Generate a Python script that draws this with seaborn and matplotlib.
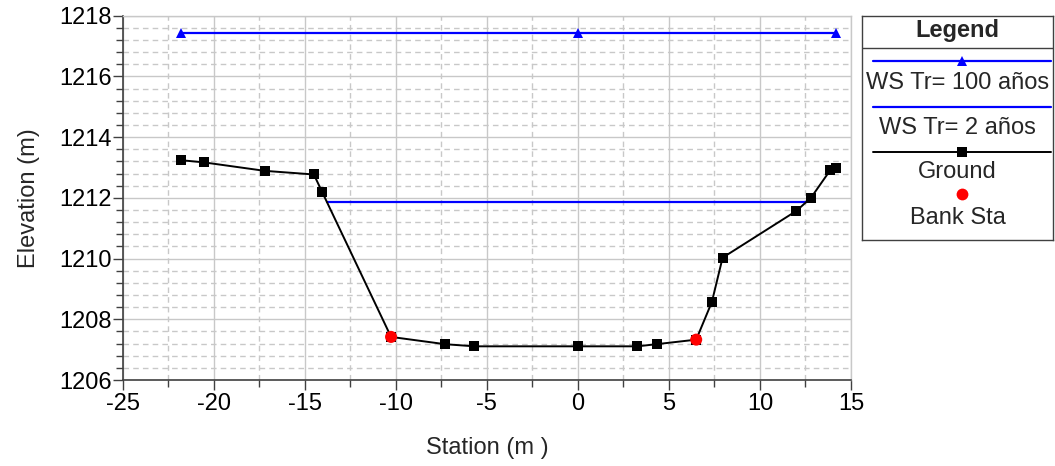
import matplotlib
matplotlib.use("Agg")
import matplotlib.pyplot as plt
import pandas as pd
import seaborn as sns
from matplotlib.lines import Line2D
from matplotlib.ticker import MultipleLocator

# Cross-section ground profile
station = [-21.8, -20.55, -17.2, -14.5, -14.05, -10.26, -7.29, -5.68, 0.0,
           3.27, 4.32, 6.5, 7.36, 7.95, 12.0, 12.8, 13.86, 14.19]
elevation = [1213.24, 1213.17, 1212.89, 1212.77, 1212.2, 1207.42, 1207.18,
             1207.11, 1207.11, 1207.11, 1207.18, 1207.33, 1208.57, 1210.03,
             1211.57, 1212.0, 1212.91, 1212.99]

# Bank stations
bank_station = [-10.26, 6.5]
bank_elev = [1207.42, 1207.33]

# Water surfaces
ws100_station = [-21.8, 0.0, 14.19]
ws100_elev = [1217.43, 1217.43, 1217.43]
ws2_station = [-13.8, 12.58]
ws2_elev = [1211.86, 1211.86]

legend_labels = ["WS Tr= 100 años", "WS Tr= 2 años", "Ground", "Bank Sta"]

FS = 17

sns.set_style("white")
plt.rcParams["font.family"] = ["Liberation Sans", "DejaVu Sans"]
plt.rcParams["font.size"] = FS
plt.rcParams["axes.unicode_minus"] = False

fig = plt.figure(figsize=(10.55, 4.66), dpi=100)
ax = fig.add_axes([0.1163, 0.1845, 0.6903, 0.7818])

ground = pd.DataFrame({"station": station, "elevation": elevation})
banks = pd.DataFrame({"station": bank_station, "elevation": bank_elev})
ws100 = pd.DataFrame({"station": ws100_station, "elevation": ws100_elev})
ws2 = pd.DataFrame({"station": ws2_station, "elevation": ws2_elev})

sns.lineplot(data=ws100, x="station", y="elevation", ax=ax, color="#0000ff",
             lw=1.6, marker="^", markersize=7.5, markeredgewidth=0,
             sort=False, zorder=3)
sns.lineplot(data=ws2, x="station", y="elevation", ax=ax, color="#0000ff",
             lw=1.6, sort=False, zorder=3)
sns.lineplot(data=ground, x="station", y="elevation", ax=ax, color="black",
             lw=1.4, marker="s", markersize=7, markeredgewidth=0,
             sort=False, zorder=4)
sns.scatterplot(data=banks, x="station", y="elevation", ax=ax, color="#ff0000",
                s=75, edgecolor="none")
ax.collections[-1].set_zorder(6)

ax.set_xlim(-25, 15)
ax.set_ylim(1206, 1218)
ax.xaxis.set_major_locator(MultipleLocator(5))
ax.xaxis.set_minor_locator(MultipleLocator(2.5))
ax.yaxis.set_major_locator(MultipleLocator(2))
ax.yaxis.set_minor_locator(MultipleLocator(0.4))

ax.grid(which="major", color="#c8c8c8", lw=1.0, ls="-", zorder=0)
ax.grid(which="minor", color="#c8c8c8", lw=1.0, ls=(0, (4, 3)), zorder=0)
ax.set_axisbelow(True)

for side in ("top", "right"):
    ax.spines[side].set_color("#c8c8c8")
    ax.spines[side].set_linewidth(1.0)
for side in ("left", "bottom"):
    ax.spines[side].set_color("#404040")
    ax.spines[side].set_linewidth(1.2)

ax.tick_params(axis="both", which="major", direction="out", length=7,
               width=1, color="#404040", labelsize=FS, labelcolor="black")
ax.tick_params(axis="both", which="minor", direction="out", length=5,
               width=1, color="#404040")
ax.tick_params(axis="y", which="both", left=True, pad=1)
ax.tick_params(axis="x", which="both", bottom=True, pad=2)

ax.set_xlabel("Station (m )", fontsize=FS, labelpad=16)
ax.set_ylabel("Elevation (m)", fontsize=FS, labelpad=14)

# Legend panel
W, H = 1055.0, 466.0
lx0, lx1, ly0, ly1 = 862, 1053, 16, 240
lax = fig.add_axes([lx0 / W, 1 - ly1 / H, (lx1 - lx0) / W, (ly1 - ly0) / H])
lax.set_xlim(lx0, lx1)
lax.set_ylim(ly1, ly0)
lax.set_xticks([])
lax.set_yticks([])
for s in lax.spines.values():
    s.set_color("#404040")
    s.set_linewidth(1.0)

cx = (lx0 + lx1) / 2
lax.text(cx, 31, "Legend", ha="center", va="center", fontsize=FS,
         fontweight="bold")
lax.add_line(Line2D([lx0, lx1], [47.5, 47.5], color="#404040", lw=1.0))

lax.add_line(Line2D([873, 1051], [61, 61], color="#0000ff", lw=1.6))
lax.add_line(Line2D([962], [61], color="#0000ff", marker="^", markersize=7.5,
                    markeredgewidth=0))
lax.text(cx, 83, legend_labels[0], ha="center", va="center", fontsize=FS)

lax.add_line(Line2D([873, 1051], [107, 107], color="#0000ff", lw=1.6))
lax.text(cx, 128, legend_labels[1], ha="center", va="center", fontsize=FS)

lax.add_line(Line2D([873, 1051], [152, 152], color="black", lw=1.4))
lax.add_line(Line2D([962], [152], color="black", marker="s", markersize=7,
                    markeredgewidth=0))
lax.text(cx, 172, legend_labels[2], ha="center", va="center", fontsize=FS)

lax.add_line(Line2D([962], [194], color="#ff0000", marker="o", markersize=8.5,
                    markeredgewidth=0, lw=0))
lax.text(cx, 218, legend_labels[3], ha="center", va="center", fontsize=FS)

fig.savefig("out.png", dpi=100)
